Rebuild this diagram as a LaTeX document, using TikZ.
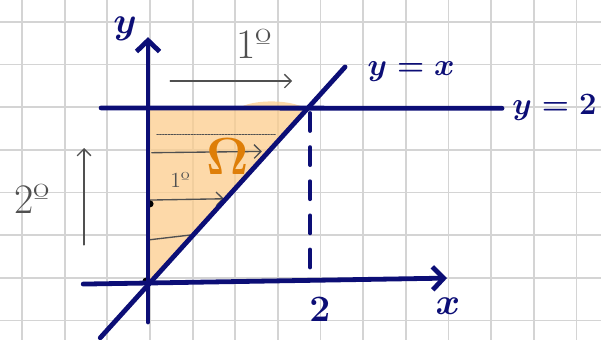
\documentclass[tikz,border=0pt]{standalone}
\usepackage{amsmath,amssymb}
\usepackage{fontspec}
\usepackage{tikz}
\usetikzlibrary{arrows.meta,calc}
\definecolor{inknavy}{RGB}{12,14,118}
\definecolor{pencil}{RGB}{80,80,80}
\definecolor{gridgray}{RGB}{212,212,212}
\definecolor{regfill}{RGB}{252,204,140}
\definecolor{regink}{RGB}{222,126,8}

\begin{document}
\begin{tikzpicture}[
    axis/.style={inknavy, line width=3.2pt, line cap=round},
    sketch/.style={pencil, line width=0.9pt, line cap=round},
    barb/.style={-{Straight Barb[length=2.6mm,width=5.4mm]}},
    sbarb/.style={-{Straight Barb[length=1.6mm,width=3.2mm]}},
    inklab/.style={inknavy, font=\Huge\boldmath},
    penlab/.style={pencil, font=\huge, scale=1.35},
  ]
  \useasboundingbox (0,0) rectangle (14.09,7.97);
  \begin{scope}
    \clip (0,0) rectangle (14.09,7.97);
    \draw[gridgray, line width=1.2pt, shift={(0.516,0.456)}] (-1,-1) grid (14,8);
  \end{scope}

  % points of the region
  \coordinate (O) at (3.47,1.34);
  \coordinate (ybot) at (3.47,0.42);
  \coordinate (ytop) at (3.47,7.10);
  \coordinate (xleft) at (1.95,1.31);
  \coordinate (xtip) at (10.48,1.45);
  \coordinate (hl) at (2.37,5.44);
  \coordinate (hr) at (11.77,5.43);
  \coordinate (dl) at (2.35,0.05);
  \coordinate (dr) at (8.09,6.40);
  \coordinate (P) at (7.22,5.44);
  \coordinate (dtop) at (7.27,5.32);
  \coordinate (dbot) at (7.27,1.47);

  % shaded region
  \fill[regfill, fill opacity=0.75] (O) -- (3.47,5.44) -- (5.6,5.44)
    .. controls (5.9,5.62) and (6.6,5.64) .. (7.0,5.5) -- (P) -- cycle;

  % pencil sweeps
  \draw[sketch, densely dotted] (3.68,4.81) -- (6.45,4.81);
  \draw[sketch, sbarb] (3.56,4.39) -- (6.14,4.42);
  \draw[sketch, sbarb] (3.52,3.28) -- (5.25,3.31);
  \draw[sketch] (3.52,2.35) -- (4.46,2.46);
  \fill (3.52,3.19) circle (2.3pt);
  \fill (3.42,1.38) circle (2.3pt);
  \draw[sketch, sbarb] (3.99,6.07) -- (6.85,6.07);
  \draw[sketch, sbarb] (1.97,2.23) -- (1.97,4.50);
  \node[penlab] (first) at (5.95,6.95) {1º};
  \node[penlab] (second) at (0.75,3.30) {2º};
  \node[pencil, font=\Large] (firstin) at (4.22,3.75) {1º};

  % lines and axes
  \draw[axis] (hl) -- (hr);
  \draw[axis] (dl) -- (dr);
  \draw[axis, barb] (ybot) -- (ytop);
  \draw[axis, barb] (xleft) -- (xtip);
  \draw[inknavy, line width=2.6pt, line cap=round, dash pattern=on 0.42cm off 0.38cm] (dtop) -- (dbot);

  % labels
  \node[inklab] (ylab) at (2.93,7.30) {$y$};
  \node[inklab] (xlab) at (10.50,0.78) {$x$};
  \node[inklab, font=\huge\boldmath] (diaglab) at (9.64,6.30) {$y = x$};
  \node[inklab, font=\huge\boldmath] (toplab) at (13.00,5.44) {$y = 2$};
  \node[inklab] (ticklab) at (7.50,0.72) {$2$};
  \node[regink, font=\Huge\boldmath, scale=1.4] (omega) at (5.35,4.30) {$\Omega$};
\end{tikzpicture}
\end{document}
